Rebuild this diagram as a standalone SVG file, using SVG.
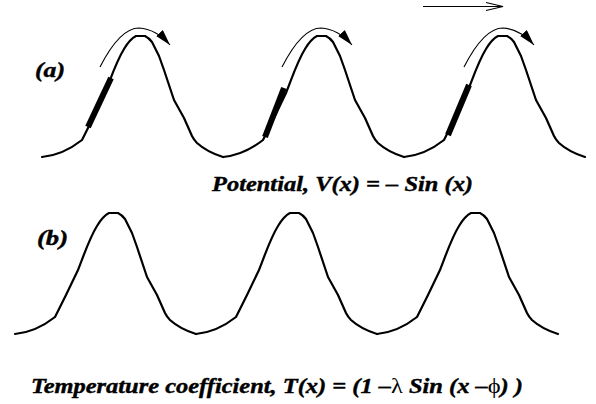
<svg xmlns="http://www.w3.org/2000/svg" xmlns:xlink="http://www.w3.org/1999/xlink" width="596" height="404" viewBox="0 0 596 404">
<style>
.curve{fill:none;stroke:#000;stroke-width:2.2;stroke-linejoin:round;stroke-linecap:round}
.thick{fill:none;stroke:#000;stroke-width:6;stroke-linecap:butt}
.arc{fill:none;stroke:#000;stroke-width:1.1}
.lbl{font-family:"Liberation Serif","DejaVu Serif",serif;font-weight:bold;font-style:italic;font-size:20px;fill:#000;stroke:#000;stroke-width:0.4}
</style>
<defs>
<path id="hump" d="M-99,121 Q-78,119 -59,104 L-48,82 L-36,57 C-30,42 -25,26 -17,13 Q-11,3 -5,0 L4,0 Q8,2 11,6 L18,20 L23,34 L33,64 L43,82 L51,100 Q53,104 56,107 Q66,116 82,121"/>
<marker id="ah" markerWidth="20" markerHeight="10" refX="16" refY="4.5" orient="auto" markerUnits="userSpaceOnUse">
<path d="M0,0 L16,4.5 L0,9 Z" fill="#000"/>
</marker>
</defs>
<g id="curve-a">
<use xlink:href="#hump" class="curve" transform="translate(141,36)"/>
<use xlink:href="#hump" class="curve" transform="translate(322,36)"/>
<use xlink:href="#hump" class="curve" transform="translate(503,36)"/>
</g>
<g id="particles">
<line class="thick" x1="88" y1="127" x2="111" y2="78"/>
<line class="thick" x1="265" y1="137" x2="284" y2="88"/>
<line class="thick" x1="448" y1="135" x2="469" y2="85"/>
</g>
<g id="connectors">
<path class="arc" d="M100,67 Q120,28 139,28 Q156,29 170,45" marker-end="url(#ah)"/>
<path class="arc" d="M282,67 Q302,28 321,28 Q338,29 352,45" marker-end="url(#ah)"/>
<path class="arc" d="M464,67 Q484,28 503,28 Q520,29 534,45" marker-end="url(#ah)"/>
<line x1="423" y1="6.5" x2="503" y2="6.5" stroke="#000" stroke-width="1.1"/>
<path d="M486,2.5 L503,6.5 L486,10.5" fill="none" stroke="#000" stroke-width="1.1"/>
</g>
<g id="curve-b">
<use xlink:href="#hump" class="curve" transform="translate(114,213)"/>
<use xlink:href="#hump" class="curve" transform="translate(295,213)"/>
<use xlink:href="#hump" class="curve" transform="translate(476,213)"/>
</g>
<g id="labels">
<text class="lbl" x="35" y="77" textLength="30" lengthAdjust="spacingAndGlyphs">(a)</text>
<text class="lbl" x="37" y="245" textLength="31" lengthAdjust="spacingAndGlyphs">(b)</text>
<text class="lbl" x="212" y="191" textLength="261" lengthAdjust="spacingAndGlyphs">Potential, V(x) = – Sin (x)</text>
<text class="lbl" x="31" y="393" textLength="492" lengthAdjust="spacingAndGlyphs">Temperature coefficient, T(x) = (1 –<tspan font-style="normal" font-weight="normal" stroke-width="0">λ</tspan> Sin (x –<tspan font-style="normal" font-weight="normal" stroke-width="0">ϕ</tspan>) )</text>
</g>
</svg>
